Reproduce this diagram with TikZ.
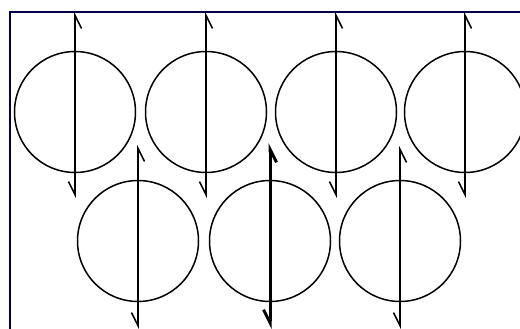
\documentclass[tikz,border=0pt]{standalone}
\usetikzlibrary{arrows.meta}

\begin{document}
\begin{tikzpicture}[x=1pt, y=-1pt,
    ring/.style={draw, circle, line width=1.5pt, minimum size=121pt, inner sep=0pt},
    spin/.style={line width=1.6pt, {Straight Barb[right, length=13pt, width=13pt]}-{Straight Barb[right, length=13pt, width=13pt]}}]
    \useasboundingbox (0,0) rectangle (520,329);
    % frame, open at right and bottom
    \draw[line width=2pt, color=blue!30!black] (10,329) -- (10,12) -- (520,12);

    % upper row
    \node[ring] (c1) at (75,112) {};
    \node[ring] (c2) at (206,112) {};
    \node[ring] (c3) at (336,112) {};
    \node[ring] (c4) at (465,112) {};

    % lower row
    \node[ring] (c5) at (138,241) {};
    \node[ring] (c6) at (270,241) {};
    \node[ring] (c7) at (400,241) {};

    % line ends
    \coordinate (t1) at (75,12);  \coordinate (b1) at (75,198);
    \coordinate (t2) at (206,12); \coordinate (b2) at (206,198);
    \coordinate (t3) at (336,12); \coordinate (b3) at (336,198);
    \coordinate (t4) at (465,12); \coordinate (b4) at (465,198);
    \coordinate (t5) at (138,145); \coordinate (b5) at (138,329);
    \coordinate (t6) at (270,143); \coordinate (b6) at (270,329);
    \coordinate (t7) at (400,146); \coordinate (b7) at (400,329);

    \draw[spin] (t1) -- (b1);
    \draw[spin] (t2) -- (b2);
    \draw[spin] (t3) -- (b3);
    \draw[spin] (t4) -- (b4);
    \draw[spin] (t5) -- (b5);
    \draw[spin, line width=3pt] (t6) -- (b6);
    \draw[spin] (t7) -- (b7);
\end{tikzpicture}
\end{document}
